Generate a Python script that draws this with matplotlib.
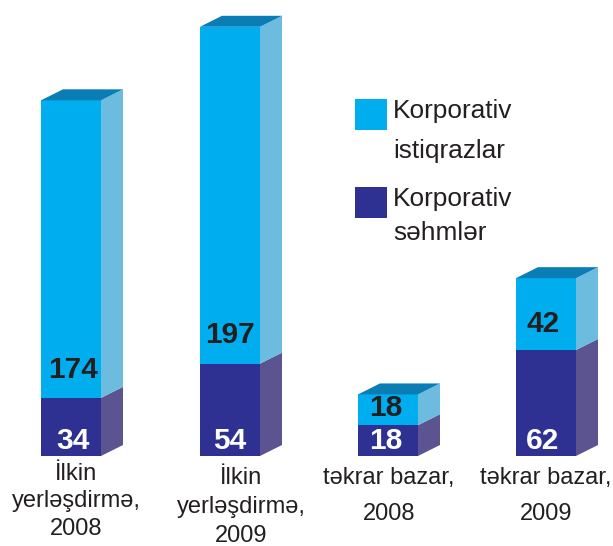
import matplotlib
matplotlib.use("Agg")
import matplotlib.pyplot as plt
from matplotlib.patches import Polygon, Rectangle

plt.rcParams['font.family'] = ['Liberation Sans', 'DejaVu Sans']

# data
categories = ["İlkin\nyerləşdirmə,\n2008", "İlkin\nyerləşdirmə,\n2009", "təkrar bazar,\n2008", "təkrar bazar,\n2009"]
shares = [34, 54, 18, 62]        # korporativ səhmlər
bonds = [174, 197, 18, 42]       # korporativ istiqrazlar
legend_labels = ["Korporativ\nistiqrazlar", "Korporativ\nsəhmlər"]

W, H = 613, 546
PX_PER_UNIT = 1.71
BASE_PX = 456     # baseline, px from the top
TOP_CLIP = 14     # the scan cuts the tallest bar off here
BAR_LEFT = [41, 200, 358, 516]
BAR_W = 60
DX, DY = 22, 11 / PX_PER_UNIT

BLUE = '#00AEEF'
BLUE_SIDE = '#6BBCDE'
BLUE_TOP = '#0A7DB4'
NAVY = '#2E3192'
NAVY_SIDE = '#5B5490'
INK = '#231F20'

fig = plt.figure(figsize=(W / 100, H / 100), dpi=100)
ax = fig.add_axes([0, 0, 1, 1 - TOP_CLIP / H])
ax.set_xlim(0, W)
ax.set_ylim(-(H - BASE_PX) / PX_PER_UNIT, (BASE_PX - TOP_CLIP) / PX_PER_UNIT)
ax.axis('off')

centers = [x + BAR_W / 2 for x in BAR_LEFT]
ax.bar(centers, shares, width=BAR_W, color=NAVY, linewidth=0)
ax.bar(centers, bonds, width=BAR_W, bottom=shares, color=BLUE, linewidth=0)

# 3D sides and top caps
for x, s, b in zip(BAR_LEFT, shares, bonds):
    r = x + BAR_W
    top = s + b
    ax.add_patch(Polygon([(r, 0), (r + DX, DY), (r + DX, s + DY), (r, s)], color=NAVY_SIDE, lw=0))
    ax.add_patch(Polygon([(r, s), (r + DX, s + DY), (r + DX, top + DY), (r, top)], color=BLUE_SIDE, lw=0))
    ax.add_patch(Polygon([(x, top), (x + DX, top + DY), (r + DX, top + DY), (r, top)], color=BLUE_TOP, lw=0))

# value labels, offsets in px
top_offsets = [28, 29, 17, 26]
label_shift = [2, 0, -2, -3]
for c, s, sh in zip(centers, shares, label_shift):
    ax.text(c + sh, 15 / PX_PER_UNIT, str(s), color='white', fontsize=21.5, fontweight='bold', ha='center', va='center')
for c, s, b, off, sh in zip(centers, shares, bonds, top_offsets, label_shift):
    ax.text(c + sh, s + off / PX_PER_UNIT, str(b), color=INK, fontsize=21.5, fontweight='bold', ha='center', va='center')

# category labels
cat_x = [76, 241, 389, 546]
cat_top = [463, 467, 467, 467]
cat_spacing = [1.32, 1.4, 1.85, 1.85]
for name, x, y, sp in zip(categories, cat_x, cat_top, cat_spacing):
    fig.text(x / W, 1 - y / H, name, fontsize=17, color=INK, ha='center', va='top', linespacing=sp)

# legend
swatch_top = [99, 187]
text_base = [[118, 158], [206, 240]]
for label, color, sy, ys in zip(legend_labels, [BLUE, NAVY], swatch_top, text_base):
    fig.add_artist(Rectangle((355 / W, 1 - (sy + 31) / H), 32 / W, 31 / H, transform=fig.transFigure, color=color, lw=0))
    for line, y in zip(label.split("\n"), ys):
        fig.text(393 / W, 1 - y / H, line, fontsize=18.9, color=INK, ha='left', va='baseline')

fig.savefig('out.png', dpi=100)
